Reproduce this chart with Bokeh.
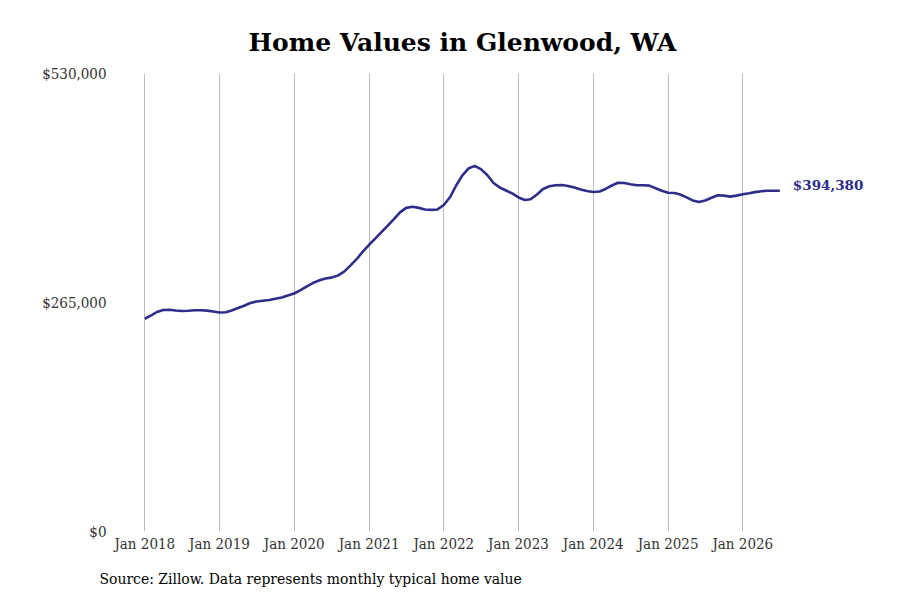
import pandas as pd
from bokeh.plotting import figure
from bokeh.models import (ColumnDataSource, FixedTicker, DatetimeTickFormatter,
                          NumeralTickFormatter, Range1d, Title)
from bokeh.core.properties import value
from bokeh.embed import file_html
from bokeh.resources import INLINE

# ---- data (monthly typical home value, Jan 2018 onward) ----
start_month = "2018-01-01"
home_values = [
    246200, 250000, 254000, 256300, 256600, 255800, 255100, 255400, 256000, 256000, 255600, 254600,
    253400, 253700, 255800, 258700, 261200, 264400, 266200, 267100, 267900, 269300, 270800, 273100,
    275400, 279400, 283400, 287500, 290400, 292700, 293800, 296100, 300700, 307600, 315100, 323800,
    331800, 339300, 346200, 353700, 361200, 369300, 374500, 375800, 374500, 372700, 372200, 372700,
    377900, 387100, 399800, 411900, 420000, 423100, 419400, 412500, 403300, 398100, 394600, 391200,
    386600, 383700, 384500, 390000, 396400, 399500, 400700, 401000, 399800, 398100, 395800, 394000,
    392900, 393500, 396400, 400400, 403500, 403300, 401800, 400700, 400600, 400200, 397200, 394300,
    392000, 391700, 390000, 386600, 383100, 381400, 383100, 386200, 389100, 388700, 387500, 388700,
    390200, 391400, 392700, 393800, 394300, 394400, 394380,
]
tick_years = [2018, 2019, 2020, 2021, 2022, 2023, 2024, 2025, 2026]
y_ticks = [0, 265000, 530000]
end_label = "$394,380"
title_text = "Home Values in Glenwood, WA"
source_text = "Source: Zillow. Data represents monthly typical home value"

dates = pd.date_range(start_month, periods=len(home_values), freq="MS")
src = ColumnDataSource(dict(date=dates, value=home_values))

LINE = "#2e2d8a"
FONT = "DejaVu Serif"
COND = "'DejaVu Serif Condensed', 'DejaVu Serif', serif"

year_ms = 365.25 * 86400000.0
t0 = pd.Timestamp("2018-01-01").value / 1e6
x_start = t0 - 0.392 * year_ms
x_end = t0 + 9.842 * year_ms

p = figure(width=892, height=600, x_axis_type="datetime",
           output_backend="svg", toolbar_location=None,
           x_range=Range1d(x_start, x_end), y_range=Range1d(0, 530000),
           min_border_left=115, min_border_right=12, min_border_top=73,
           min_border_bottom=67)
p.outline_line_color = None
p.background_fill_color = "white"
p.border_fill_color = "white"

p.title = Title(text=title_text, align="left", offset=133,
                text_font=FONT, text_font_size="25px", text_font_style="bold",
                text_color="#000000", standoff=33)

p.add_layout(Title(text=source_text, align="left", offset=-16,
                   text_font=COND, text_font_size="15.5px", text_font_style="normal",
                   text_color="#000000", standoff=25), "below")

p.line("date", "value", source=src, line_color=LINE, line_width=2.6)

p.text(x=[dates[-1]], y=[home_values[-1]], text=[end_label],
       text_font=value(FONT), text_font_size="13.5px", text_font_style="bold",
       text_color=LINE, text_baseline="middle", text_align="left",
       x_offset=13, y_offset=-6)

tick_ms = [pd.Timestamp(f"{y}-01-01").value / 1e6 for y in tick_years]
p.xaxis.ticker = FixedTicker(ticks=tick_ms)
p.xaxis.formatter = DatetimeTickFormatter(years="%b %Y", months="%b %Y", days="%b %Y")
p.yaxis.ticker = FixedTicker(ticks=y_ticks)
p.yaxis.formatter = NumeralTickFormatter(format="$0,0")

for ax in (p.xaxis, p.yaxis):
    ax.axis_line_color = None
    ax.major_tick_line_color = None
    ax.minor_tick_line_color = None
    ax.major_tick_out = 0
    ax.major_tick_in = 0
    ax.minor_tick_out = 0
    ax.major_label_text_font = COND
    ax.major_label_text_font_size = "15px"
    ax.major_label_text_color = "#333333"
p.xaxis.major_label_standoff = 3
p.yaxis.major_label_standoff = 9

p.xgrid.ticker = FixedTicker(ticks=tick_ms)
p.xgrid.grid_line_color = "#bbbbbb"
p.xgrid.grid_line_width = 1
p.ygrid.grid_line_color = None

open("out.html", "w").write(file_html(p, INLINE))
